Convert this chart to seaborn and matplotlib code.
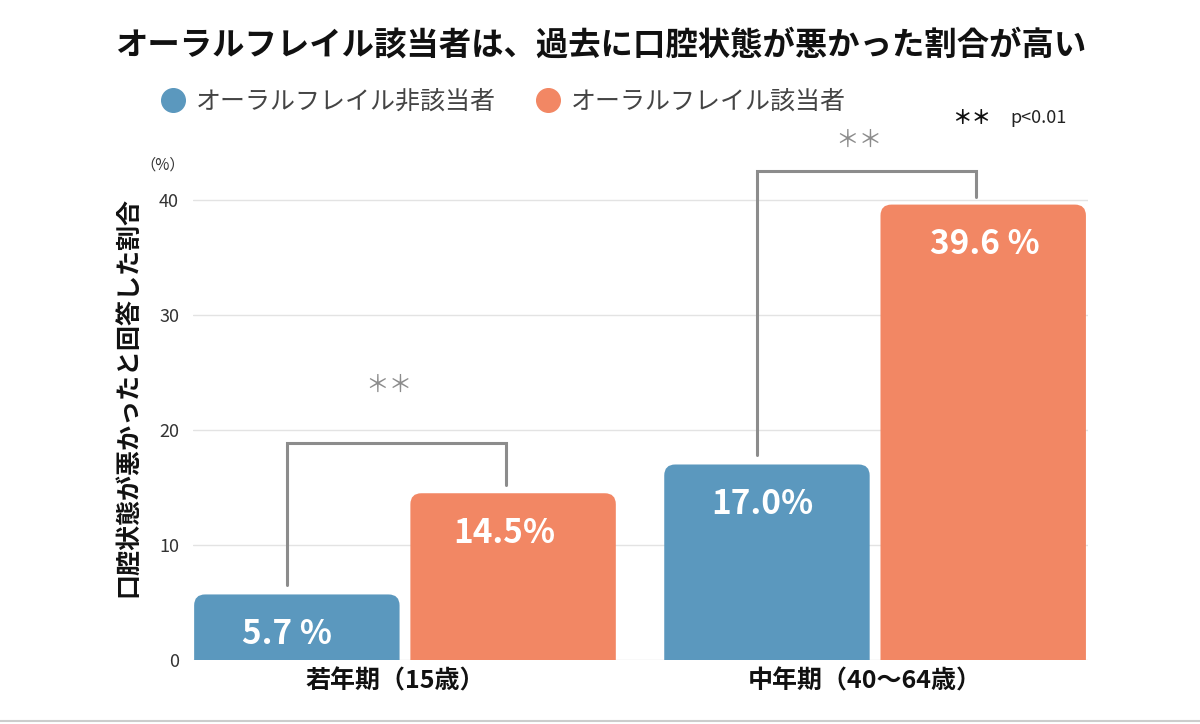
import matplotlib
matplotlib.use('Agg')
import matplotlib.pyplot as plt
import matplotlib.transforms as mtransforms
import seaborn as sns
import pandas as pd
from matplotlib.patches import FancyBboxPatch
from matplotlib.lines import Line2D

# ---- data ----
categories = ['若年期（15歳）', '中年期（40〜64歳）']
series = ['オーラルフレイル非該当者', 'オーラルフレイル該当者']
non_frail = [5.7, 17.0]
frail = [14.5, 39.6]
labels_non = ['5.7 %', '17.0%']
labels_frail = ['14.5%', '39.6 %']
y_ticks = [0, 10, 20, 30, 40]
bracket_tops = [18.9, 42.5]
star_heights = [23.9, 45.2]
colors = ['#5B98BE', '#F28764']

title = 'オーラルフレイル該当者は、過去に口腔状態が悪かった割合が高い'
ylabel = '口腔状態が悪かったと回答した割合'

sns.set_theme(style='white')
plt.rcParams['font.family'] = ['Noto Sans CJK JP', 'DejaVu Sans']

df = pd.DataFrame({
    'cat': categories * 2,
    'series': [series[0]] * len(categories) + [series[1]] * len(categories),
    'value': non_frail + frail,
})

fig = plt.figure(figsize=(12, 7.24), dpi=100)
ax = fig.add_axes([0.1608, 0.0884, 0.7459, 0.7148])
sns.barplot(data=df, x='cat', y='value', hue='series', hue_order=series,
            order=categories, palette=colors, width=0.92, gap=0.05,
            saturation=1, ax=ax, legend=False)

ax.set_xlim(-0.451, 1.453)
ax.set_ylim(0, 45)

# rounded top corners
fig.canvas.draw()
bbox = ax.get_window_extent()
x0, x1 = ax.get_xlim()
y0, y1 = ax.get_ylim()
rad_px = 11
rx = rad_px * (x1 - x0) / bbox.width
ry = rad_px * (y1 - y0) / bbox.height

bar_info = []  # per container: list of (center, height)
for cont in ax.containers:
    info = []
    for p in cont.patches:
        x, w, h = p.get_x(), p.get_width(), p.get_height()
        fc = p.get_facecolor()
        p.set_visible(False)
        fb = FancyBboxPatch((x, -2 * ry), w, h + 2 * ry,
                            boxstyle=f'round,pad=0,rounding_size={rx}',
                            mutation_aspect=ry / rx, fc=fc, ec='none', zorder=3)
        ax.add_patch(fb)
        info.append((x + w / 2, h))
    bar_info.append(info)

# value labels
label_dx = [[-0.022, -0.01], [-0.018, 0.003]]
for ci, labs in enumerate([labels_non, labels_frail]):
    for j, ((cx, h), lab) in enumerate(zip(bar_info[ci], labs)):
        ax.text(cx + label_dx[ci][j], h - 3.5, lab, ha='center', va='center', color='white',
                fontsize=24, fontweight='bold', zorder=5)

# significance brackets
gray = '#8c8c8c'
for i in range(len(categories)):
    (bx, bh) = bar_info[0][i]
    (ox, oh) = bar_info[1][i]
    xl, xr = bx - 0.022, ox - 0.015
    top = bracket_tops[i]
    ax.plot([xl, xl, xr, xr], [bh + 0.8, top, top, oh + 0.7], color=gray,
            lw=2.2, solid_joinstyle='miter', clip_on=False, zorder=4)
    ax.text((xl + xr) / 2 - 0.015, star_heights[i], '＊＊', ha='center', va='center',
            color=gray, fontsize=17, clip_on=False)

# axes styling
ax.set_yticks(y_ticks)
ax.set_yticklabels([str(t) for t in y_ticks])
ax.tick_params(axis='y', length=0, pad=10, labelsize=13, labelcolor='#333333')
ax.tick_params(axis='x', length=0, pad=7)
shift = mtransforms.ScaledTranslation(-10 / 100, 0, fig.dpi_scale_trans)
for lab in ax.get_xticklabels():
    lab.set_fontsize(18)
    lab.set_fontweight('bold')
    lab.set_color('#111111')
    lab.set_transform(lab.get_transform() + shift)
ax.yaxis.grid(True, color='#e3e3e3', lw=1)
ax.set_axisbelow(True)
for s in ax.spines.values():
    s.set_visible(False)
ax.set_xlabel('')
ax.set_ylabel(ylabel, fontsize=18, fontweight='bold', color='#111111', va='center')
ax.yaxis.set_label_coords(-0.0726, 0.508)
ax.text(-0.0335, 0.9565, '（%）', transform=ax.transAxes, ha='center', va='center',
        fontsize=11, color='#333333')

# title
fig.text(601 / 1200, 1 - 45 / 724, title, ha='center', va='center',
         fontsize=23.3, fontweight='bold', color='#111111')

# legend
handles = [Line2D([], [], marker='o', ls='', color=c, markersize=17) for c in colors]
ax.legend(handles, series, loc='center left',
          bbox_to_anchor=(160 / 1200, 1 - 102 / 724), bbox_transform=fig.transFigure,
          ncol=2, frameon=False, fontsize=18, handlelength=1.0, handletextpad=0.45,
          columnspacing=1.55, borderpad=0, borderaxespad=0, labelcolor='#444444')

# significance note
fig.text(972 / 1200, 1 - 118 / 724, '＊＊', ha='center', va='center',
         fontsize=14, fontweight='bold', color='#111111')
fig.text(1010 / 1200, 1 - 118 / 724, 'p<0.01', ha='left', va='center',
         fontsize=13, color='#222222')

# bottom rule
fig.add_artist(Line2D([0, 1], [1 - 721 / 724] * 2, color='#cccccc', lw=1.5))

fig.savefig('out.png', dpi=100)
